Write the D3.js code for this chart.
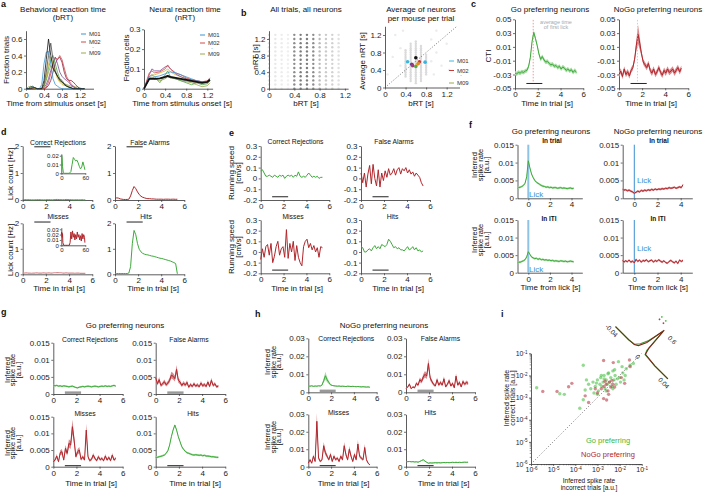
<!DOCTYPE html>
<html><head><meta charset="utf-8">
<script src="https://cdn.jsdelivr.net/npm/d3@7"></script>
<style>
html,body{margin:0;padding:0;background:#fff;}
svg{display:block;}
</style></head><body>
<svg id="fig" width="707" height="494"></svg>
<script>
// ================= DATA =================
// a: behavioural reaction time histograms (fraction of trials)
const aBins=[0,0.05,0.1,0.15,0.2,0.25,0.3,0.35,0.4,0.45,0.5,0.55,0.6,0.65,0.7,0.75,0.8,0.85,0.9,0.95,1.0,1.05,1.1,1.15,1.2,1.25,1.3];
const bRT_olive=[0,0.02,0.03,0.02,0.01,0,0,0,0.02,0.1,0.2,0.28,0.25,0.2,0.15,0.1,0.08,0.06,0.05,0.04,0.03,0.03,0.02,0.02,0.01,0,0];
const bRT_maroon=[0,0,0,0,0,0,0,0,0,0.01,0.04,0.1,0.2,0.3,0.36,0.38,0.32,0.2,0.12,0.1,0.1,0.08,0.05,0.02,0,0,0];
const bRT_red=[0,0,0,0,0,0,0,0,0,0.02,0.08,0.18,0.3,0.38,0.35,0.4,0.35,0.25,0.15,0.1,0.06,0.03,0.01,0,0,0,0];
const bRT_purple=[0,0,0,0,0,0,0,0,0.01,0.05,0.12,0.22,0.3,0.38,0.3,0.2,0.15,0.12,0.1,0.08,0.04,0.02,0.01,0,0,0,0];
const bRT_green=[0,0,0.02,0.02,0,0,0,0,0.03,0.12,0.25,0.35,0.4,0.3,0.2,0.12,0.08,0.05,0.03,0.02,0.01,0,0,0,0,0,0];
const bRT_yellow=[0,0,0,0.01,0,0,0,0,0.05,0.15,0.3,0.38,0.3,0.2,0.12,0.08,0.05,0.04,0.03,0.02,0.01,0,0,0,0,0,0];
const bRT_gray=[0,0,0.02,0.03,0.01,0,0,0,0.05,0.2,0.4,0.55,0.35,0.22,0.15,0.12,0.1,0.06,0.04,0.02,0.01,0,0,0,0,0,0];
const bRT_blue=[0,0,0.01,0.02,0.01,0,0,0.05,0.3,0.44,0.45,0.3,0.12,0.05,0.03,0.01,0,0,0,0,0,0,0,0,0,0,0];
const bRT_black=[0,0,0,0.01,0.01,0,0,0,0.1,0.35,0.6,0.4,0.25,0.2,0.15,0.1,0.08,0.05,0.03,0.02,0.01,0,0,0,0,0,0];
// a: neural reaction time histograms (fraction of cells)
const nBins=[0,0.1,0.15,0.2,0.3,0.4,0.45,0.5,0.6,0.7,0.8,0.9,1.0,1.1,1.2,1.25];
const nRT_olive=[0,0.05,0.06,0.05,0.04,0.05,0.06,0.055,0.05,0.04,0.035,0.03,0.02,0.01,0.015,0.03];
const nRT_gray=[0,0.05,0.055,0.05,0.05,0.055,0.06,0.055,0.05,0.045,0.04,0.035,0.03,0.03,0.03,0.04];
const nRT_green=[0,0.06,0.05,0.06,0.03,0.07,0.09,0.06,0.05,0.04,0.03,0.02,0.03,0.02,0.025,0.04];
const nRT_yellow=[0,0.06,0.07,0.07,0.08,0.09,0.1,0.085,0.07,0.06,0.05,0.04,0.03,0.03,0.03,0.04];
const nRT_purple=[0,0.07,0.1,0.09,0.09,0.11,0.115,0.1,0.075,0.06,0.05,0.045,0.04,0.035,0.03,0.04];
const nRT_red=[0,0.08,0.09,0.08,0.085,0.1,0.12,0.1,0.08,0.07,0.055,0.045,0.04,0.035,0.04,0.055];
const nRT_blue=[0,0.06,0.07,0.06,0.065,0.075,0.08,0.085,0.08,0.07,0.06,0.05,0.04,0.035,0.03,0.05];
const nRT_avg=[0,0.05,0.05,0.05,0.052,0.06,0.065,0.06,0.055,0.05,0.045,0.04,0.035,0.03,0.035,0.045];
const mouseLegend=['M01','M02','M09'];
// b: all trials grid
const bGridX=[0,0.1,0.2,0.3,0.4,0.5,0.6,0.7,0.8,0.9,1.0,1.1];
const bGridY=[0,0.1,0.2,0.3,0.4,0.5,0.6,0.7,0.8,0.9,1.0,1.1,1.2,1.3];
const bGridDensity=[0.2,0.15,0.12,0.1,0.75,0.85,0.85,0.75,0.45,0.35,0.3,0.2];
// b: average per mouse per trial
const bAvgColX=[0.4,0.5,0.6,0.7,0.8];
const bAvgColLo=[0.25,0.15,0.1,0.15,0.3];
const bAvgColHi=[0.85,1.0,1.05,0.95,0.75];
const bAvgLevels=[0.1,0.15,0.2,0.25,0.3,0.35,0.4,0.45,0.5,0.55,0.6,0.65,0.7,0.75,0.8,0.85,0.9,0.95,1.0,1.05];
const bStrayX=[0.05,0.15,0.2,0.3,0.3,0.35,0.9,0.95,1.0,1.1,1.2,1.25,0.9,1.0];
const bStrayY=[0.3,0.7,1.2,0.5,0.9,1.3,1.1,0.3,0.8,0.5,1.0,0.4,0.6,1.3];
const bMouseX=[0.44,0.78,0.52,0.54,0.6,0.67,0.63,0.6,0.65];
const bMouseY=[0.59,0.58,0.53,0.5,0.68,0.59,0.53,0.48,0.55];
// time axes
const T=[0,0.15,0.3,0.45,0.6,0.75,0.9,1.05,1.2,1.35,1.5,1.65,1.8,1.95,2.1,2.25,2.4,2.55,2.7,2.85,3,3.15,3.3,3.45,3.6,3.75,3.9,4.05,4.2,4.35,4.5,4.65,4.8,4.95,5.1,5.25,5.4];
const trialWindow=[1,2.4];
const firstLickTime=1.6;
// c: CTI
const ctiGo=[-0.028,-0.029,-0.027,-0.028,-0.026,-0.027,-0.025,-0.024,-0.018,-0.005,0.018,0.031,0.022,0.012,0.0,-0.008,-0.004,-0.009,-0.012,-0.011,-0.014,-0.016,-0.015,-0.018,-0.017,-0.02,-0.018,-0.022,-0.019,-0.021,-0.024,-0.022,-0.025,-0.023,-0.027,-0.024,-0.027];
const ctiNoGo=[-0.03,-0.025,-0.033,-0.022,-0.03,-0.026,-0.032,-0.024,-0.02,-0.008,0.012,0.028,0.015,0.0,-0.012,-0.016,-0.02,-0.014,-0.024,-0.028,-0.022,-0.03,-0.026,-0.02,-0.027,-0.031,-0.024,-0.028,-0.022,-0.027,-0.025,-0.022,-0.028,-0.024,-0.02,-0.026,-0.021];
// d: lick counts [Hz]
const lickCR=[0.02,0.015,0.01,0.01,0.01,0.005,0.005,0.005,0.01,0.01,0.01,0.005,0.005,0.005,0.01,0.01,0.01,0.005,0.01,0.02,0.02,0.015,0.01,0.01,0.01,0.02,0.015,0.01,0.01,0.005,0.005,0.01,0.005,0.005,0.01,0.005,0.005];
const lickFA=[0.05,0.08,0.07,0.04,0.03,0.02,0.02,0.02,0.03,0.15,0.35,0.5,0.42,0.3,0.2,0.14,0.1,0.08,0.06,0.05,0.05,0.04,0.04,0.035,0.03,0.03,0.03,0.03,0.025,0.03,0.03,0.03,0.025,0.03,0.03,0.025,0.03];
const lickMiss=[0.05,0.05,0.06,0.05,0.05,0.04,0.05,0.05,0.06,0.05,0.05,0.05,0.06,0.05,0.05,0.06,0.05,0.05,0.06,0.06,0.07,0.06,0.06,0.05,0.05,0.06,0.05,0.05,0.05,0.05,0.04,0.05,0.05,0.04,0.04,0.04,0.04];
const lickHit=[0.03,0.03,0.03,0.03,0.03,0.03,0.03,0.03,0.05,0.3,1.2,1.72,1.55,1.2,0.98,0.88,0.82,0.79,0.77,0.76,0.74,0.72,0.71,0.69,0.67,0.65,0.63,0.62,0.6,0.58,0.56,0.54,0.52,0.49,0.46,0.42,0.02];
const insetCRx=[0,1,2,3,5,8,12,16,20,24,27,30,33,36,39,42,45,48,51,54,57,59];
const insetCRy=[0.02,0.021,0.018,0.008,0.001,0,0,0,0,0.002,0.01,0.018,0.016,0.014,0.015,0.012,0.008,0.005,0.007,0.013,0.008,0.004];
const insetMissX=[0,1,2,3,4,6,10,15,20,22,24,26,28,30,32,34,36,38,40,42,44,46,48,50,52,54,56,58,59];
const insetMissY=[0.02,0.025,0.015,0.022,0.005,0,0,0,0,0.005,0.025,0.012,0.027,0.015,0.022,0.01,0.02,0.012,0.025,0.015,0.02,0.01,0.018,0.008,0.022,0.012,0.02,0.015,0.005];
// e: running speed [cm/s]
const runCR=[0.07,0.08,0.05,0.02,0.02,0.03,0.02,0.01,0.03,0.02,0.01,0.03,0.02,0.03,0.0,0.02,0.03,0.02,0.03,0.01,0.03,0.02,0.06,0.02,0.01,0.02,0.01,0.03,0.05,0.03,0.01,0.02,0.01,0.02,0.0,0.01,0.01];
const runFA=[0.05,-0.04,0.05,-0.08,0.04,0.12,-0.05,0.13,0.0,-0.07,0.08,-0.08,0.05,-0.02,0.07,0.01,0.09,0.03,0.05,0.09,0.03,0.08,0.1,0.04,0.09,0.07,0.1,0.05,0.08,0.04,0.06,0.02,0.05,0.03,0.01,-0.04,-0.07];
const runMiss=[-0.07,0.03,-0.05,0.05,0.07,-0.03,0.08,-0.1,-0.04,0.05,0.1,-0.03,0.03,0.05,-0.05,0.21,-0.06,0.08,0.0,0.1,-0.08,0.06,-0.05,-0.1,-0.13,0.05,0.1,0.12,0.04,0.08,0.02,0.06,0.0,0.04,-0.05,0.05,0.04];
const runHit=[0.05,0.04,0.0,0.0,0.02,0.03,0.01,0.04,0.06,0.03,0.05,0.03,0.07,0.06,0.05,0.07,0.12,0.1,0.07,0.04,0.05,0.03,0.04,0.02,0.02,0.01,0.03,0.05,0.02,0.03,0.05,0.02,0.04,0.01,0.02,0.0,0.01];
// f: spike rate aligned to lick
const tLick=[-1,-0.9,-0.75,-0.6,-0.45,-0.3,-0.15,0,0.15,0.3,0.45,0.6,0.75,0.9,1.05,1.2,1.35,1.5,1.65,1.8,1.95,2.1,2.25,2.4,2.55,2.7,2.85,3,3.15,3.3,3.45,3.6,3.75,3.9,4.05,4.2];
const fGoTrial=[0.0028,0.003,0.0031,0.0033,0.0036,0.0042,0.006,0.0105,0.0085,0.0068,0.0058,0.005,0.0045,0.0042,0.0039,0.0036,0.0034,0.0033,0.0031,0.0032,0.003,0.0031,0.0029,0.003,0.003,0.0028,0.0029,0.003,0.0028,0.0029,0.0028,0.0027,0.0028,0.0029,0.0027,0.0028];
const fGoITI=[0.0028,0.003,0.003,0.0032,0.0034,0.0037,0.0045,0.006,0.0052,0.0045,0.0042,0.004,0.0041,0.0038,0.004,0.0037,0.0038,0.0036,0.0037,0.0035,0.0036,0.0034,0.0035,0.0033,0.0034,0.0033,0.0032,0.0034,0.0033,0.0032,0.0033,0.0031,0.0032,0.0033,0.0032,0.0031];
const fNoGoTrial=[0.0025,0.0023,0.0024,0.0021,0.0023,0.002,0.0018,0.0014,0.0017,0.002,0.0018,0.0022,0.002,0.0023,0.0021,0.0024,0.0022,0.0025,0.0023,0.0026,0.0024,0.0026,0.0025,0.0027,0.0026,0.0028,0.0027,0.003,0.0028,0.0029,0.0031,0.0028,0.003,0.0032,0.003,0.0038];
const fNoGoITI=[0.0035,0.003,0.0034,0.0031,0.0036,0.003,0.0033,0.0028,0.0038,0.0032,0.0036,0.003,0.0035,0.0033,0.0037,0.0031,0.0034,0.0036,0.003,0.0035,0.0032,0.0037,0.0033,0.003,0.0034,0.0029,0.0027,0.0032,0.0035,0.0031,0.0028,0.0033,0.0026,0.0036,0.0032,0.0035];
// g: Go preferring neurons
const gCR=[0.0025,0.0024,0.0025,0.0023,0.0024,0.0022,0.0024,0.0023,0.0022,0.0021,0.0022,0.0023,0.0021,0.0019,0.0018,0.002,0.0021,0.0022,0.0021,0.0022,0.0023,0.0022,0.0021,0.0022,0.0023,0.0022,0.0021,0.0022,0.0023,0.0022,0.0024,0.0022,0.0023,0.0022,0.0024,0.0025,0.0023];
const gFA=[0.0048,0.003,0.0042,0.0025,0.003,0.0036,0.0027,0.0032,0.004,0.0055,0.0052,0.0045,0.0072,0.004,0.0035,0.0025,0.0032,0.0026,0.0034,0.002,0.0028,0.0022,0.003,0.0023,0.0027,0.0021,0.0032,0.0024,0.0028,0.0022,0.0035,0.0022,0.004,0.0025,0.003,0.0021,0.0023];
const gMiss=[0.0015,0.002,0.0032,0.0015,0.0042,0.0045,0.002,0.0055,0.004,0.007,0.0065,0.012,0.008,0.003,0.0045,0.005,0.0022,0.003,0.002,0.011,0.003,0.0018,0.0022,0.0035,0.0025,0.0018,0.003,0.0021,0.0025,0.0018,0.0032,0.002,0.0028,0.0018,0.0035,0.002,0.0025];
const gHit=[0.0028,0.0028,0.003,0.0031,0.0033,0.0035,0.004,0.0048,0.0065,0.009,0.011,0.0125,0.011,0.009,0.0075,0.006,0.0052,0.0046,0.0042,0.004,0.0038,0.0036,0.0035,0.0036,0.0035,0.0034,0.0035,0.0033,0.0034,0.0032,0.0032,0.0031,0.003,0.003,0.0029,0.0028,0.0028];
// h: NoGo preferring neurons
const hCR=[0.0035,0.0034,0.0036,0.0033,0.0035,0.0034,0.0036,0.0035,0.004,0.0065,0.0092,0.007,0.0055,0.0042,0.0038,0.0036,0.0035,0.0034,0.0035,0.0033,0.0034,0.0033,0.0032,0.0034,0.0033,0.0032,0.0033,0.0032,0.0031,0.0032,0.0031,0.003,0.0031,0.003,0.0029,0.003,0.0028];
const hFA=[0.002,0.003,0.0045,0.002,0.003,0.0025,0.005,0.004,0.007,0.006,0.0085,0.01,0.009,0.016,0.008,0.006,0.0045,0.0035,0.007,0.004,0.0055,0.004,0.0075,0.003,0.0045,0.0065,0.0035,0.005,0.0025,0.009,0.004,0.0055,0.003,0.006,0.0045,0.0055,0.005];
const hMiss=[0.002,0.004,0.002,0.006,0.003,0.026,0.005,0.003,0.004,0.012,0.008,0.006,0.004,0.007,0.003,0.006,0.004,0.005,0.003,0.006,0.004,0.012,0.007,0.004,0.01,0.006,0.003,0.007,0.004,0.013,0.006,0.005,0.004,0.011,0.004,0.002,0.001];
const hHit=[0.003,0.0029,0.003,0.0028,0.0029,0.0027,0.0028,0.0026,0.003,0.0035,0.004,0.0032,0.0025,0.002,0.0022,0.0021,0.0022,0.0023,0.0022,0.0023,0.0022,0.0023,0.0024,0.0023,0.0024,0.0023,0.0024,0.0025,0.0024,0.0025,0.0024,0.0025,0.0024,0.0025,0.0026,0.0025,0.0026];
// i: scatter, incorrect (x) vs correct (y)
const iGoX=[1.8e-6,2e-5,3.2e-5,1.6e-4,2.3e-4,2.8e-4,4e-4,5e-4,6.3e-4,8e-4,1e-3,1.1e-3,1.3e-3,1.4e-3,1.6e-3,1.8e-3,2e-3,2.2e-3,2.5e-3,2.8e-3,3.2e-3,3.5e-3,4e-3,4.5e-3,5e-3,5.6e-3,6.3e-3,7e-3,8e-3,8.9e-3,1e-2,1.1e-2,1.3e-2,1.4e-2,1.6e-2,1.8e-2,2e-2,3e-2,4.2e-2,2.3e-4,3.2e-4,2.5e-3,1e-3,5e-3,7e-4,1.5e-3,3e-3,6e-3,9e-4,2e-3];
const iGoY=[2.8e-3,1.5e-3,1.4e-3,3.3e-4,8e-4,2.2e-3,4e-3,2.5e-3,5e-3,3.2e-3,6.3e-3,2e-3,4e-3,8e-3,3.2e-3,5e-3,1e-2,2.5e-3,6.3e-3,4e-3,1.3e-2,5e-3,8e-3,3.2e-3,1.6e-2,6.3e-3,1e-2,4e-3,7e-3,4.2e-2,8e-3,5e-3,2.5e-2,1.3e-2,6.3e-3,1e-2,2e-2,2.9e-2,3.5e-2,2.9e-2,6.3e-3,2e-3,1.4e-3,2.5e-3,1.6e-3,1e-2,1.2e-2,1.8e-2,4.5e-3,7e-3];
const iNoGoX=[3.4e-6,1.5e-5,5e-5,7e-5,2.8e-4,1.9e-3,5.2e-3,2.8e-2,1.9e-3,2.6e-3,1.7e-2,1.5e-3,2e-3,2.5e-3,3e-3,3.5e-3,4e-3,4.5e-3,5e-3,1e-3,8e-4,6e-3,1.2e-2,2.2e-3,3.2e-3,4e-4,3e-2];
const iNoGoY=[1.9e-3,1.9e-3,3.1e-3,4.4e-3,1.2e-3,4.7e-2,3.8e-2,5e-2,9e-4,7.8e-4,4.4e-3,2.5e-3,3.2e-3,4e-3,2e-3,5e-3,3e-3,6e-3,4e-3,1.6e-3,2.5e-3,3e-3,8e-3,5.5e-3,1.4e-3,6e-4,2.5e-2];
const iTicks=[1e-6,1e-5,1e-4,1e-3,1e-2,1e-1];
// i: marginal histogram of differences
const iHistX=[-0.04,-0.02,-0.012,-0.008,-0.004,0,0.002,0.004,0.02,0.04];
const iHistGo=[0,0,0.02,0.1,0.25,0.55,0.1,0.02,0,0];
const iHistNoGo=[0,0,0.01,0.05,0.2,0.58,0.15,0.03,0,0];
const iMarkGoX=[-0.012,-0.006], iMarkGoY=[0.72,0.72];
const iMarkNoGoX=[-0.012,-0.006], iMarkNoGoY=[0.66,0.66];

// ================= STYLE / HELPERS =================
const FONT='"Liberation Sans",Arial,Helvetica,sans-serif';
const GREEN='#3daa3a', GREEN_L='#a9dca5', RED='#b0262c', RED_L='#d98a8e', BLUE='#3b8fd0';
const mouseColorsA=['#9aa84a','#8b1c3c','#d24b4b','#7d4a9c','#52a84a','#d8b92a','#4a4a4a','#3a94d0','#111111'];
const mouseColorsN=['#9aa84a','#777777','#52a84a','#d8b92a','#7d4a9c','#d24b4b','#3a94d0'];
const legendColors=['#3a94d0','#d24b4b','#9aa84a'];
const bMouseColors=['#38b6e0','#38b6e0','#6a3d9a','#a23a7a','#111111','#c83a3a','#e8b828','#5aa848','#e08a30'];

const svg=d3.select('#fig');
svg.append('rect').attr('width',707).attr('height',494).attr('fill','#fff');

function txt(x,y,s,o={}){
  const t=svg.append('text').attr('x',x).attr('y',y).text(s)
    .attr('font-size',o.size||8).attr('text-anchor',o.anchor||'middle')
    .attr('fill',o.fill||'#111').attr('font-weight',o.weight||'normal').attr('font-family',FONT);
  if(o.rot!=null) t.attr('transform',`rotate(${o.rot},${x},${y})`);
  return t;
}
function letter(x,y,s){ txt(x,y,s,{size:9,weight:'bold',anchor:'start'}); }
function axes(o){
  const x=(o.xlog?d3.scaleLog():d3.scaleLinear()).domain(o.xd).range(o.px);
  const y=(o.ylog?d3.scaleLog():d3.scaleLinear()).domain(o.yd).range(o.py);
  const g=svg.append('g');
  const fs=o.fs||8, ts=o.ts||2;
  const ax=g.append('g').attr('transform',`translate(0,${o.py[0]})`)
    .call(d3.axisBottom(x).tickValues(o.xt).tickFormat(o.xf||(d=>String(d))).tickSize(ts).tickSizeOuter(0).tickPadding(o.tp==null?1.5:o.tp));
  const ay=g.append('g').attr('transform',`translate(${o.px[0]},0)`)
    .call(d3.axisLeft(y).tickValues(o.yt).tickFormat(o.yf||(d=>String(d))).tickSize(ts).tickSizeOuter(0).tickPadding(o.tp==null?1.5:o.tp));
  [ax,ay].forEach(a=>{
    a.attr('font-family',FONT).attr('font-size',fs);
    a.selectAll('text').attr('fill','#222');
    a.select('.domain').attr('stroke','#333').attr('stroke-width',0.8);
    a.selectAll('.tick line').attr('stroke','#333').attr('stroke-width',0.7);
  });
  return {x,y,g,ax,ay};
}
function pts(xs,ys){ const n=Math.min(xs.length,ys.length); const r=[]; for(let i=0;i<n;i++) r.push([xs[i],ys[i]]); return r; }
function plot(p,xs,ys,color,w,dash){
  const path=p.g.append('path').datum(pts(xs,ys)).attr('fill','none').attr('stroke',color)
    .attr('stroke-width',w||1).attr('stroke-linejoin','round')
    .attr('d',d3.line().x(d=>p.x(d[0])).y(d=>p.y(d[1])));
  if(dash) path.attr('stroke-dasharray',dash);
  return path;
}
function band(p,xs,ys,err,color,op){
  const e=v=>typeof err==='function'?err(v):err;
  p.g.append('path').datum(pts(xs,ys)).attr('fill',color).attr('opacity',op==null?1:op)
    .attr('d',d3.area().x(d=>p.x(d[0])).y0(d=>p.y(d[1]-e(d[1]))).y1(d=>p.y(d[1]+e(d[1]))));
}
function hbar(p,w,yv,color,sw){
  p.g.append('line').attr('x1',p.x(w[0])).attr('x2',p.x(w[1])).attr('y1',p.y(yv)).attr('y2',p.y(yv))
    .attr('stroke',color).attr('stroke-width',sw);
}
function vline(p,xv,y0,y1,color,sw,dash,op){
  const l=p.g.append('line').attr('x1',p.x(xv)).attr('x2',p.x(xv)).attr('y1',p.y(y0)).attr('y2',p.y(y1))
    .attr('stroke',color).attr('stroke-width',sw).attr('opacity',op==null?1:op);
  if(dash) l.attr('stroke-dasharray',dash);
}
function legend(x,y,labels,colors,dy){
  labels.forEach((s,i)=>{
    const yy=y+i*dy+(i==2?3:0);
    svg.append('line').attr('x1',x).attr('x2',x+5).attr('y1',yy-2).attr('y2',yy-2).attr('stroke',colors[i]).attr('stroke-width',1);
    txt(x+8,yy,s,{size:6,anchor:'start',fill:'#333'});
  });
  txt(x+12,y+dy+4.5,'·',{size:6,fill:'#333'});
}

// ================= PANEL a =================
letter(1,7,'a');
txt(63,12,'Behavioral reaction time',{size:8}); txt(63,20,'(bRT)',{size:8});
const pA1=axes({px:[26,93.5],py:[88.7,30.7],xd:[0,1.5],yd:[0,0.7],xt:[0,0.4,0.8,1.2],yt:[0,0.2,0.4,0.6]});
[bRT_olive,bRT_maroon,bRT_red,bRT_purple,bRT_green,bRT_yellow,bRT_gray,bRT_blue,bRT_black]
  .forEach((s,i)=>plot(pA1,aBins,s,mouseColorsA[i],0.8));
txt(8.5,60,'Fraction trials',{rot:-90});
txt(56,106,'Time from stimulus onset [s]');
legend(81,36,mouseLegend,legendColors,8);

txt(185,12,'Neural reaction time',{size:8}); txt(185,20,'(nRT)',{size:8});
const pA2=axes({px:[144,212.6],py:[88.7,29.3],xd:[0,1.3],yd:[0,0.3],xt:[0,0.4,0.8,1.2],yt:[0,0.1,0.2,0.3]});
[nRT_olive,nRT_gray,nRT_green,nRT_yellow,nRT_purple,nRT_red,nRT_blue].forEach((s,i)=>plot(pA2,nBins,s,mouseColorsN[i],0.8));
plot(pA2,nBins,nRT_avg,'#111',1.8);
txt(128.5,58,'Fraction cells',{rot:-90});
txt(182,106,'Time from stimulus onset [s]');
legend(200,37,mouseLegend,legendColors,8);

// ================= PANEL b =================
letter(241,16,'b');
txt(306,12,'All trials, all neurons',{size:8});
const pB1=axes({px:[269,348.1],py:[88.7,30.7],xd:[0,1.25],yd:[0,1.4],xt:[0,0.4,0.8,1.2],yt:[0,0.4,0.8,1.2]});
bGridX.forEach((gx,i)=>bGridY.forEach(gy=>{
  pB1.g.append('circle').attr('cx',pB1.x(gx)).attr('cy',pB1.y(gy)).attr('r',1.2).attr('fill','#666').attr('opacity',bGridDensity[i]);
}));
txt(258,57,'nRT [s]',{rot:-90});
txt(306,106,'bRT [s]');

txt(421,12,'Average of neurons',{size:8}); txt(421,21,'per mouse per trial',{size:8});
const pB2=axes({px:[385,459.5],py:[87.5,26.25],xd:[0,1.45],yd:[0,1.4],xt:[0,0.4,0.8,1.2],yt:[0,0.4,0.8,1.2]});
bStrayX.forEach((sx,i)=>pB2.g.append('circle').attr('cx',pB2.x(sx)).attr('cy',pB2.y(bStrayY[i])).attr('r',1.2).attr('fill','#999').attr('opacity',0.2));
bAvgColX.forEach((cx,i)=>bAvgLevels.filter(l=>l>=bAvgColLo[i]&&l<=bAvgColHi[i]).forEach(l=>{
  pB2.g.append('circle').attr('cx',pB2.x(cx)).attr('cy',pB2.y(l)).attr('r',1.2).attr('fill','#888').attr('opacity',0.3);
}));
plot(pB2,[0,1.4],[0,1.4],'#555',0.8,'1,1.8');
bMouseX.forEach((mx,i)=>pB2.g.append('circle').attr('cx',pB2.x(mx)).attr('cy',pB2.y(bMouseY[i])).attr('r',1.8).attr('fill',bMouseColors[i]));
txt(365,61,'Average nRT [s]',{rot:-90});
txt(421,106,'bRT [s]');
legend(449,63,mouseLegend,['#38b6e0','#c83a3a','#9aa84a'],9.5);

// ================= PANEL c =================
letter(471,7,'c');
txt(550,12,'Go preferring neurons'); txt(658,12,'NoGo preferring neurons');
const cY=[-0.05,-0.03,-0.01,0.01,0.03,0.05];
const pC1=axes({px:[515,583.3],py:[88.3,19.3],xd:[0,6],yd:[-0.05,0.05],xt:[0,2,4,6],yt:cY});
band(pC1,T,ctiGo,0.003,GREEN_L);
plot(pC1,T,ctiGo,GREEN,1);
vline(pC1,firstLickTime,-0.04,0.05,'#e07070',0.7,'1.5,1.5');
hbar(pC1,trialWindow,-0.043,'#222',1);
txt(556,23.5,'average time',{size:5.5,fill:'#aaa'}); txt(556,28.5,'of first lick',{size:5.5,fill:'#aaa'});
txt(491,56,'CTI',{rot:-90});
txt(547,106,'Time in trial [s]');
const pC2=axes({px:[619,688.3],py:[88.3,19.3],xd:[0,6],yd:[-0.05,0.05],xt:[0,2,4,6],yt:cY});
band(pC2,T,ctiNoGo,v=>0.004+Math.max(0,v)*0.35,RED_L);
plot(pC2,T,ctiNoGo,RED,1);
vline(pC2,firstLickTime,-0.04,0.05,'#bbb',0.7,'1.5,1.5');
hbar(pC2,trialWindow,-0.043,'#222',1);
txt(651,106,'Time in trial [s]');

// ================= PANEL d =================
letter(1,135,'d');
const dOpt={xd:[0,6],yd:[0,2],xt:[0,2,4,6],yt:[0,1,2]};
const pD1=axes({...dOpt,px:[22.7,92.3],py:[200,146]});
plot(pD1,T,lickCR,GREEN,1); hbar(pD1,trialWindow,1.97,'#222',1);
txt(58,145,'Correct Rejections',{size:6.8});
const pD2=axes({...dOpt,px:[115,184.3],py:[200,146]});
plot(pD2,T,lickFA,RED,1); hbar(pD2,trialWindow,1.97,'#222',1);
txt(150,145,'False Alarms',{size:6.8});
const pD3=axes({...dOpt,px:[22.7,92.3],py:[274.3,223.3]});
plot(pD3,T,lickMiss,RED_L,1.2); hbar(pD3,trialWindow,2.05,'#222',1);
txt(58,219,'Misses',{size:6.8});
const pD4=axes({...dOpt,px:[115,184.3],py:[274.3,223.3]});
plot(pD4,T,lickHit,GREEN,1); hbar(pD4,trialWindow,2.05,'#222',1);
txt(146,219,'Hits',{size:6.8});
const pDi1=axes({px:[61.3,85.3],py:[173.3,154],xd:[0,60],yd:[0,0.022],xt:[0,60],yt:[0,0.01,0.02],fs:6,ts:1.5,tp:1});
plot(pDi1,insetCRx,insetCRy,GREEN,1);
const pDi2=axes({px:[61.3,85.3],py:[245.3,227.7],xd:[0,60],yd:[0,0.033],xt:[0,60],yt:[0,0.01,0.02,0.03],fs:6,ts:1.5,tp:1});
plot(pDi2,insetMissX,insetMissY,RED,1);
txt(13,174,'Lick count [Hz]',{rot:-90});
txt(13,250,'Lick count [Hz]',{rot:-90});
txt(59,291,'Time in trial [s]'); txt(153,291,'Time in trial [s]');

// ================= PANEL e =================
letter(229,136,'e');
const eOpt={xd:[0,6],yd:[-0.2,0.3],xt:[0,2,4,6],yt:[-0.2,-0.1,0,0.1,0.2,0.3]};
const pE1=axes({...eOpt,px:[260.7,329.3],py:[200,146]});
plot(pE1,T,runCR,GREEN,1); hbar(pE1,trialWindow,-0.17,'#222',1);
txt(295.5,144,'Correct Rejections',{size:6.8});
const pE2=axes({...eOpt,px:[361,430],py:[200,146]});
plot(pE2,T,runFA,RED,1); hbar(pE2,trialWindow,-0.17,'#222',1);
txt(394,144,'False Alarms',{size:6.8});
const pE3=axes({...eOpt,px:[260.7,329.3],py:[273.3,220]});
plot(pE3,T,runMiss,RED,1); hbar(pE3,trialWindow,-0.17,'#222',1);
txt(293,218.5,'Misses',{size:6.8});
const pE4=axes({...eOpt,px:[361,430],py:[273.3,220]});
plot(pE4,T,runHit,GREEN,1); hbar(pE4,trialWindow,-0.17,'#222',1);
txt(392.5,218.5,'Hits',{size:6.8});
txt(234,173,'Running speed',{rot:-90}); txt(241,173,'[cm/s]',{rot:-90});
txt(234,247,'Running speed',{rot:-90}); txt(241,247,'[cm/s]',{rot:-90});
txt(297,291,'Time in trial [s]'); txt(398,291,'Time in trial [s]');

// ================= PANEL f =================
letter(469,128,'f');
txt(551,134,'Go preferring neurons'); txt(658,134,'NoGo preferring neurons');
const fOpt={xd:[-1,5],yd:[0,0.015],xt:[0,2,4],yt:[0,0.005,0.01,0.015]};
const pF1=axes({...fOpt,px:[517.5,582.3],py:[198.3,144.7]});
vline(pF1,0,0,0.015,'#8ec3e6',2);
band(pF1,tLick,fGoTrial,0.0003,GREEN_L); plot(pF1,tLick,fGoTrial,GREEN,1);
const pF2=axes({...fOpt,px:[622.7,692.3],py:[198.3,144.7]});
vline(pF2,0,0,0.015,BLUE,1);
band(pF2,tLick,fNoGoTrial,0.0003,RED_L); plot(pF2,tLick,fNoGoTrial,RED,1);
const pF3=axes({...fOpt,px:[517.5,582.3],py:[272.7,220]});
vline(pF3,0,0,0.015,'#8ec3e6',2);
band(pF3,tLick,fGoITI,0.0003,GREEN_L); plot(pF3,tLick,fGoITI,GREEN,1);
const pF4=axes({...fOpt,px:[622.7,692.3],py:[272.7,220]});
vline(pF4,0,0,0.015,BLUE,1);
band(pF4,tLick,fNoGoITI,0.0003,RED_L); plot(pF4,tLick,fNoGoITI,RED,1);
txt(552,143,'In trial',{size:6.5,weight:'bold'}); txt(659,143,'In trial',{size:6.5,weight:'bold'});
txt(549,220.5,'In ITI',{size:6.5,weight:'bold'}); txt(658,220.5,'In ITI',{size:6.5,weight:'bold'});
txt(529,197,'Lick',{anchor:'start',fill:BLUE}); txt(529,271.5,'Lick',{anchor:'start',fill:BLUE});
txt(637,183,'Lick',{anchor:'start',fill:BLUE}); txt(637,250.5,'Lick',{anchor:'start',fill:BLUE});
[[165],[240]].forEach(([cy])=>{
  txt(477,cy,'Inferred',{rot:-90,size:7.5}); txt(483,cy,'spike rate',{rot:-90,size:7.5}); txt(489,cy,'[a.u.]',{rot:-90,size:7.5});
});
txt(550.5,289.5,'Time from lick [s]'); txt(658,289.5,'Time from lick [s]');

// ================= PANEL g =================
letter(1,315,'g');
txt(125,328,'Go preferring neurons');
const gOpt={xd:[0,6],yd:[0,0.015],xt:[0,2,4,6],yt:[0,0.005,0.01,0.015]};
const redErr=v=>Math.max(0.0003,v*0.18);
const pG1=axes({...gOpt,px:[53.3,122.7],py:[394,342.7]});
band(pG1,T,gCR,0.00025,GREEN_L); plot(pG1,T,gCR,GREEN,1); hbar(pG1,trialWindow,0.0004,'#999',2.5);
txt(90,342,'Correct Rejections',{size:6.8});
const pG2=axes({...gOpt,px:[155.7,225.3],py:[394,342.7]});
band(pG2,T,gFA,redErr,RED_L); plot(pG2,T,gFA,RED,1); hbar(pG2,trialWindow,0.0004,'#999',2.5);
txt(189,342,'False Alarms',{size:6.8});
const pG3=axes({...gOpt,px:[53.3,122.7],py:[466.7,416.7]});
band(pG3,T,gMiss,redErr,RED_L); plot(pG3,T,gMiss,RED,1); hbar(pG3,trialWindow,0.0003,'#222',1);
txt(85,415.5,'Misses',{size:6.8});
const pG4=axes({...gOpt,px:[155.7,225.3],py:[466.7,416.7]});
band(pG4,T,gHit,0.0003,GREEN_L); plot(pG4,T,gHit,GREEN,1); hbar(pG4,trialWindow,0.0003,'#222',1);
txt(193,415.5,'Hits',{size:6.8});
[[370],[443]].forEach(([cy])=>{
  txt(9.5,cy,'Inferred',{rot:-90,size:7.5}); txt(15,cy,'spike rate',{rot:-90,size:7.5}); txt(20.5,cy,'[a.u.]',{rot:-90,size:7.5});
});
txt(91,486,'Time in trial [s]'); txt(195,486,'Time in trial [s]');

// ================= PANEL h =================
letter(255,317,'h');
txt(384,328,'NoGo preferring neurons');
const hOpt={xd:[0,6],yd:[0,0.03],xt:[0,2,4,6],yt:[0,0.01,0.02,0.03]};
const pH1=axes({...hOpt,px:[308.3,376.7],py:[392.3,338.3]});
band(pH1,T,hCR,v=>Math.max(0.0003,(v-0.003)*0.35),GREEN_L); plot(pH1,T,hCR,GREEN,1); hbar(pH1,trialWindow,0.0008,'#999',2.5);
txt(346.3,340.5,'Correct Rejections',{size:6.8});
const pH2=axes({...hOpt,px:[406,475],py:[392.3,338.3]});
band(pH2,T,hFA,redErr,RED_L); plot(pH2,T,hFA,RED,1); hbar(pH2,trialWindow,0.0008,'#999',2.5);
txt(440.5,340.5,'False Alarms',{size:6.8});
const pH3=axes({...hOpt,px:[308.3,376.7],py:[466.7,414.3]});
band(pH3,T,hMiss,redErr,RED_L); plot(pH3,T,hMiss,RED,1); hbar(pH3,trialWindow,0.0006,'#222',1);
txt(338.5,414.5,'Misses',{size:6.8});
const pH4=axes({...hOpt,px:[406,475],py:[466.7,414.3]});
band(pH4,T,hHit,0.0003,GREEN_L); plot(pH4,T,hHit,GREEN,1); hbar(pH4,trialWindow,0.0006,'#222',1);
txt(430.3,414.5,'Hits',{size:6.8});
[[362],[437]].forEach(([cy])=>{
  txt(270,cy,'Inferred',{rot:-90,size:7.5}); txt(275.5,cy,'spike rate',{rot:-90,size:7.5}); txt(281,cy,'[a.u.]',{rot:-90,size:7.5});
});
txt(343.5,486,'Time in trial [s]'); txt(443.5,486,'Time in trial [s]');

// ================= PANEL i =================
letter(501,317,'i');
const pI=axes({px:[531,641.7],py:[464,353.3],xd:[1e-6,1e-1],yd:[1e-6,1e-1],xlog:true,ylog:true,xt:iTicks,yt:iTicks,xf:()=>'',yf:()=>'',fs:7});
function supLabels(a){
  a.selectAll('.tick text').each(function(d){
    const t=d3.select(this); t.text('');
    t.append('tspan').text('10');
    t.append('tspan').attr('dy','-0.55em').attr('font-size','0.65em').text(Math.round(Math.log10(d)));
  });
}
supLabels(pI.ax); supLabels(pI.ay);
// minor ticks
for(let e=-6;e<-1;e++) for(let m=2;m<10;m++){
  const v=m*Math.pow(10,e);
  pI.g.append('line').attr('x1',pI.x(v)).attr('x2',pI.x(v)).attr('y1',464).attr('y2',465.3).attr('stroke','#333').attr('stroke-width',0.5);
  pI.g.append('line').attr('x1',531).attr('x2',529.7).attr('y1',pI.y(v)).attr('y2',pI.y(v)).attr('stroke','#333').attr('stroke-width',0.5);
}
plot(pI,[1e-6,1e-1],[1e-6,1e-1],'#555',0.8,'1,2');
iGoX.forEach((vx,i)=>pI.g.append('circle').attr('cx',pI.x(vx)).attr('cy',pI.y(iGoY[i])).attr('r',1.7).attr('fill','#4cc24a').attr('opacity',0.6));
iNoGoX.forEach((vx,i)=>pI.g.append('circle').attr('cx',pI.x(vx)).attr('cy',pI.y(iNoGoY[i])).attr('r',1.7).attr('fill','#b8404a').attr('opacity',0.6));
txt(508.5,398,'Inferred spike rate',{rot:-90,size:7}); txt(515,398,'correct trials [a.u.]',{rot:-90,size:7});
txt(589,482.5,'Inferred spike rate',{size:6.5}); txt(589,490,'incorrect trials [a.u.]',{size:6.5});
txt(608,443,'Go preferring',{size:7.5,fill:'#3db83a'});
txt(608,457,'NoGo preferring',{size:7.5,fill:RED});
// rotated marginal histogram
const hg=svg.append('g').attr('transform','translate(641.7,352.8) rotate(45)');
const hu=d3.scaleLinear().domain([-0.04,0.04]).range([-37,37]);
const hv=d3.scaleLinear().domain([0,0.6]).range([0,-33]);
const hl=d3.line().x(d=>hu(d[0])).y(d=>hv(d[1]));
hg.append('path').datum(pts(iHistX,iHistGo)).attr('d',hl).attr('fill','none').attr('stroke','#3a9a30').attr('stroke-width',1.1);
hg.append('path').datum(pts(iHistX,iHistNoGo)).attr('d',hl).attr('fill','none').attr('stroke','#7a2a18').attr('stroke-width',1.1);
iMarkGoX.forEach((mx,i)=>hg.append('circle').attr('cx',hu(mx)).attr('cy',hv(iMarkGoY[i])).attr('r',0.9).attr('fill','#4cc24a'));
iMarkNoGoX.forEach((mx,i)=>hg.append('circle').attr('cx',hu(mx)).attr('cy',hv(iMarkNoGoY[i])).attr('r',0.9).attr('fill','#b8404a'));
[[-0.04,'-0.04'],[0,'0'],[0.04,'0.04']].forEach(([v,s])=>{
  hg.append('text').attr('x',hu(v)).attr('y',8).text(s).attr('font-size',6.5).attr('text-anchor','middle').attr('font-family',FONT).attr('fill','#222');
});
hg.append('text').attr('x',8).attr('y',hv(0.55)+2).text('0.6').attr('font-size',6.5).attr('text-anchor','start').attr('font-family',FONT).attr('fill','#222');
</script>
</body></html>
